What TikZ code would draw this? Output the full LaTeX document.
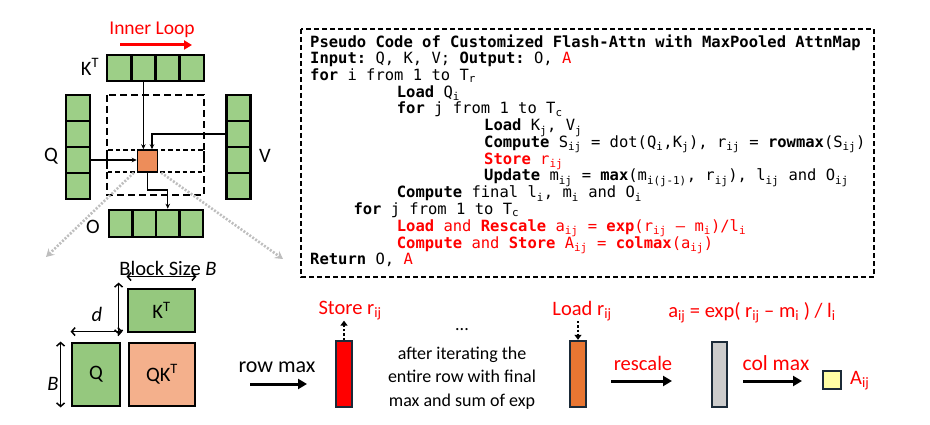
\documentclass[tikz,border=0pt]{standalone}
\usepackage{fontspec}
\setmainfont{Carlito}
\setmonofont{DejaVu Sans Mono}
\usetikzlibrary{arrows.meta}
\definecolor{cgreen}{RGB}{157,207,135}
\definecolor{bgreen}{RGB}{149,200,126}
\definecolor{salmon}{RGB}{244,176,140}
\definecolor{sqorange}{RGB}{237,141,90}
\definecolor{barorange}{RGB}{232,118,50}
\definecolor{barred}{RGB}{255,0,0}
\definecolor{bargray}{RGB}{204,204,204}
\definecolor{yel}{RGB}{255,255,165}
\definecolor{navy}{RGB}{27,42,56}
\definecolor{ptred}{RGB}{255,0,0}
\definecolor{dotgray}{RGB}{190,190,190}
\begin{document}
\begin{tikzpicture}[x={(1pt,0)},y={(0,-1pt)},
  every node/.style={font=\fontsize{20.5}{22}\selectfont, inner sep=0pt},
  cell/.style={draw=black, line width=2.6pt, fill=cgreen, inner sep=0pt},
  bigbox/.style={draw=black, line width=2.8pt, inner sep=0pt},
  bar/.style={draw=navy, line width=2.4pt, inner sep=0pt},
  conn/.style={line width=1.2pt, -{Stealth[length=5pt,width=4.5pt]}},
  dimarr/.style={line width=1.5pt, {Straight Barb[length=3.5pt,width=8pt]}-{Straight Barb[length=3.5pt,width=8pt]}},
  thickarr/.style={line width=3pt, -{Triangle[length=9pt,width=10pt]}},
  dotarr/.style={line width=2.6pt, dotgray, dash pattern=on 2pt off 1.6pt, -{Stealth[length=8pt,width=9pt,inset=3pt]}},
  barptr/.style={line width=2.4pt, dash pattern=on 2.2pt off 2pt, -{Triangle[length=5pt,width=7pt]}},
  redtxt/.style={text=ptred},
  codeline/.style={anchor=base west, font=\ttfamily\fontsize{15.5}{16.75}\selectfont},
  outerdash/.style={line width=1.4pt, dash pattern=on 7pt off 4pt},
  stripdash/.style={line width=1.3pt, dash pattern=on 4.5pt off 3pt},
  codebox/.style={line width=1.3pt, dash pattern=on 5pt off 3pt}]
\useasboundingbox (0,0) rectangle (930,425);

% ---------- top-left: tiling ----------
\node[redtxt, font=\fontsize{19.5}{21}\selectfont] (innerlbl) at (152,30) {Inner Loop};
\coordinate (ilA) at (120,45);
\coordinate (ilB) at (192,45);
\draw[line width=3pt, ptred, -{Triangle[length=8pt,width=9pt]}] (ilA) -- (ilB);

\draw[outerdash] (107,95) rectangle (204,195);
\draw[stripdash] (107,150) rectangle (204,172);

\foreach \i in {1,...,4} {
  \node[cell, minimum width=24.25pt, minimum height=26pt] (k\i) at ({107+24.25*(\i-0.5)},68) {};
  \node[cell, minimum width=24pt, minimum height=26pt] (q\i) at (78,{95+26*(\i-0.5)}) {};
  \node[cell, minimum width=23.5pt, minimum height=26pt] (v\i) at (238.5,{95+26*(\i-0.5)}) {};
  \node[cell, minimum width=23.5pt, minimum height=27pt] (o\i) at ({109+23.5*(\i-0.5)},223.5) {};
}
\node (ktlbl) at (90,67) {K\textsuperscript{T}};
\node (qlbl) at (51,156) {Q};
\node (vlbl) at (265,156) {V};
\node (olbl) at (93,227) {O};

\node[draw=black, line width=1.5pt, fill=sqorange, minimum width=20pt, minimum height=22pt] (ob) at (147.5,161) {};

\draw[conn] (k2.south) -- (k2.south |- ob.north);
\draw[conn] (v2.west) -| ([xshift=4.5pt]ob.north);
\draw[conn] (q3.east) -- (q3.east -| ob.west);
\coordinate (bend) at (167.75,190);
\draw[conn] (ob.south) |- (bend) -- (o3.north);

\coordinate (dl) at (46,257);
\coordinate (dr) at (283,259);
\draw[dotarr] ([xshift=-3pt]ob.south west) -- (dl);
\draw[dotarr] ([xshift=3pt]ob.south east) -- (dr);

% ---------- bottom-left: block sizes ----------
\node (bslbl) at (168,268) {Block Size \textit{B}};
\node[bigbox, fill=bgreen, minimum width=67pt, minimum height=43pt] (ktb) at (161.5,310.5) {K\textsuperscript{T}};
\node[bigbox, fill=bgreen, minimum width=48pt, minimum height=63pt] (qb) at (96,374.5) {Q};
\node[bigbox, fill=salmon, minimum width=66pt, minimum height=63pt] (qkb) at (162,374.5) {QK\textsuperscript{T}};
\draw[dimarr] ([yshift=11pt]ktb.north west) -- ([yshift=11pt]ktb.north east);
\draw[dimarr] ([xshift=-8pt,yshift=5pt]ktb.north west) -- ([xshift=-8pt,yshift=-1pt]ktb.south west);
\draw[dimarr] ([yshift=10pt]qb.north west) -- ([xshift=1pt,yshift=10pt]qb.north east);
\draw[dimarr] ([xshift=-10pt]qb.north west) -- ([xshift=-10pt]qb.south west);
\node (dlbl) at (97,314) {\textit{d}};
\node (blbl) at (53,384) {\textit{B}};

% ---------- bottom pipeline ----------
\node[font=\fontsize{22}{24}\selectfont] (rowmax) at (277,367) {row max};
\coordinate (rmA) at (250,384);
\coordinate (rmB) at (307,384);
\draw[thickarr] (rmA) -- (rmB);

\node[bar, fill=barred, minimum width=16pt, minimum height=66pt] (rb) at (344,374) {};
\node[redtxt] (storelbl) at (350,311) {Store r\textsubscript{ij}};
\draw[barptr] (rb.north) -- (rb.north |- storelbl.south);

\node[font=\fontsize{18}{20}\selectfont] (dots) at (462,330) {...};
\node[align=center, font=\fontsize{18}{23.5}\selectfont] (afterlbl) at (462,378) {after iterating the\\entire row with final\\max and sum of exp};

\node[bar, fill=barorange, minimum width=16pt, minimum height=66pt] (lb) at (578,374) {};
\node[redtxt] (loadlbl) at (582,311) {Load r\textsubscript{ij}};
\draw[barptr] (lb.north |- loadlbl.south) -- (lb.north);

\node[redtxt] (aijlbl) at (752,313) {a\textsubscript{ij} = exp( r\textsubscript{ij} – m\textsubscript{i} ) / l\textsubscript{i}};
\node[redtxt] (rescale) at (643,363) {rescale};
\coordinate (rsA) at (611,381);
\coordinate (rsB) at (672,381);
\draw[thickarr] (rsA) -- (rsB);

\node[bar, fill=bargray, minimum width=15pt, minimum height=65pt] (gb) at (719.5,374.5) {};
\node[redtxt, font=\fontsize{21.5}{23}\selectfont] (colmax) at (776,363) {col max};
\coordinate (cmA) at (743,381);
\coordinate (cmB) at (802,381);
\draw[thickarr] (cmA) -- (cmB);

\node[bar, fill=yel, minimum width=18pt, minimum height=18pt] (ys) at (832,380) {};
\node[redtxt, anchor=west] (alabel) at (850,381) {A\textsubscript{ij}};

% ---------- pseudo code ----------
\draw[codebox] (301,29) rectangle (874,277);
\node[codeline] (c1) at (310,47.2) {\textbf{Pseudo Code of Customized Flash-Attn with MaxPooled AttnMap}};
\node[codeline] (c2) at (310,63.9) {\textbf{Input:} Q, K, V; \textbf{Output:} O, \textcolor{ptred}{A}};
\node[codeline] (c3) at (310,80.6) {\textbf{for} i from 1 to T\textsubscript{r}};
\node[codeline] (c4) at (396.7,97.3) {\textbf{Load} Q\textsubscript{i}};
\node[codeline] (c5) at (396.7,114.0) {\textbf{for} j from 1 to T\textsubscript{c}};
\node[codeline] (c6) at (484,130.8) {\textbf{Load} K\textsubscript{j}, V\textsubscript{j}};
\node[codeline] (c7) at (484,147.5) {\textbf{Compute} S\textsubscript{ij} = dot(Q\textsubscript{i},K\textsubscript{j}), r\textsubscript{ij} = \textbf{rowmax}(S\textsubscript{ij})};
\node[codeline, text=ptred] (c8) at (484,164.3) {\textbf{Store} r\textsubscript{ij}};
\node[codeline] (c9) at (484,181.0) {\textbf{Update} m\textsubscript{ij} = \textbf{max}(m\textsubscript{i(j-1)}, r\textsubscript{ij}), l\textsubscript{ij} and O\textsubscript{ij}};
\node[codeline] (c10) at (396.7,197.8) {\textbf{Compute} final l\textsubscript{i}, m\textsubscript{i} and O\textsubscript{i}};
\node[codeline] (c11) at (353.3,214.5) {\textbf{for} j from 1 to T\textsubscript{c}};
\node[codeline, text=ptred] (c12) at (396.7,231.3) {\textbf{Load} and \textbf{Rescale} a\textsubscript{ij} = \textbf{exp}(r\textsubscript{ij} – m\textsubscript{i})/l\textsubscript{i}};
\node[codeline, text=ptred] (c13) at (396.7,248.0) {\textbf{Compute} and \textbf{Store} A\textsubscript{ij} = \textbf{colmax}(a\textsubscript{ij})};
\node[codeline] (c14) at (310,264.8) {\textbf{Return} O, \textcolor{ptred}{A}};
\end{tikzpicture}
\end{document}
